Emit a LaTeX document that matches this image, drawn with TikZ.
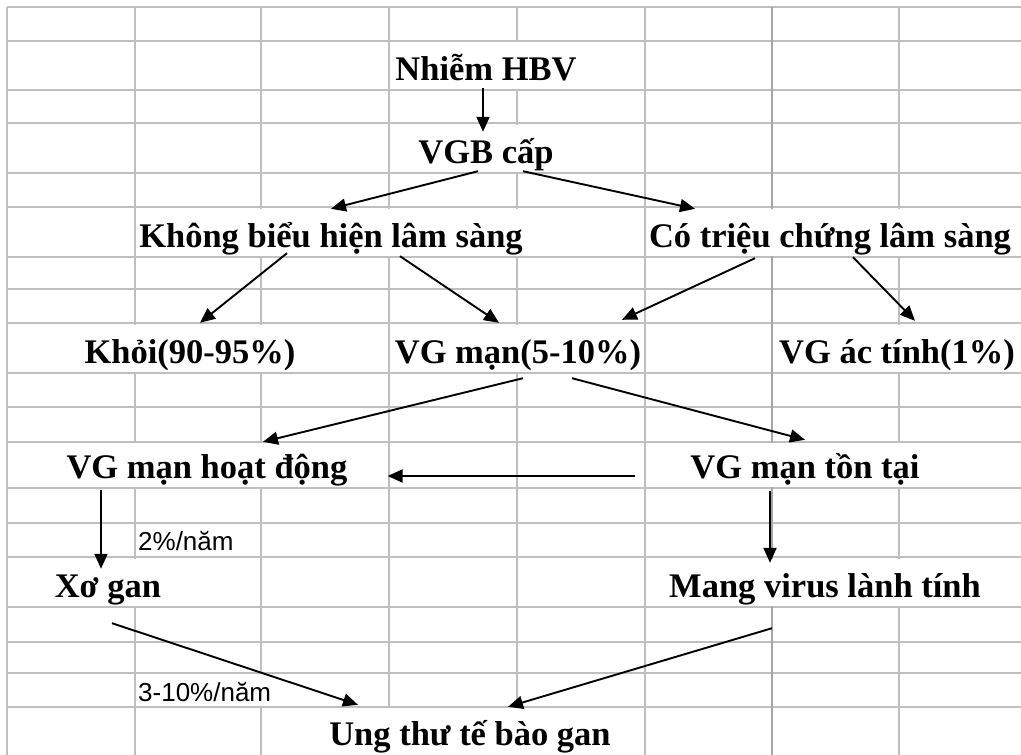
\documentclass[tikz,border=0pt]{standalone}
\usepackage{fontspec}
\setmainfont{Liberation Serif}
\newfontfamily\labfont{Liberation Sans}
\usetikzlibrary{arrows.meta}
\begin{document}
\begin{tikzpicture}[x=1pt,y=-1pt,
  gridline/.style={draw=gray!50, line width=1.3pt},
  breakline/.style={draw=gray!70, line width=2.2pt},
  txt/.style={fill=white, inner xsep=3pt, inner ysep=0pt, anchor=base,
    font=\fontsize{34.5}{40}\selectfont\bfseries},
  rowA/.style={text height=38pt, text depth=9pt},
  rowB/.style={text height=35pt, text depth=9pt},
  rowC/.style={text height=37pt, text depth=11pt},
  lab/.style={fill=white, inner xsep=2pt, inner ysep=0pt, anchor=base west,
    font=\labfont\fontsize{26}{30}\selectfont},
  arr/.style={draw=black, line width=1.9pt, -{Triangle[length=15pt,width=13pt]}}
]
\useasboundingbox (0,0) rectangle (1021,755);
\fill[white] (0,0) rectangle (1021,755);
% grid
\foreach \yy in {7,41,90,123,173,207,257,289,323,373,407,442,488,523,557,607,642,673,707}
  \draw[gridline] (7,\yy) -- (1021,\yy);
\foreach \xx in {7,135,261,389,517,645,899}
  \draw[gridline] (\xx,7) -- (\xx,755);
\draw[breakline] (772,7) -- (772,755);
% texts
\node[txt,rowA] (nhiem) at (486,80) {Nhiễm HBV};
\node[txt,rowA] (vgb) at (486,163) {VGB cấp};
\node[txt,rowA] (khong) at (331,247) {Không biểu hiện lâm sàng};
\node[txt,rowA] (co) at (830,247) {Có triệu chứng lâm sàng};
\node[txt,rowA] (khoi) at (190,363) {Khỏi(90-95\%)};
\node[txt,rowA,inner xsep=1pt] (vgman) at (518,363) {VG mạn(5-10\%)};
\node[txt,rowA] (vgac) at (897,363) {VG ác tính(1\%)};
\node[txt,rowB] (hoatdong) at (207,478) {VG mạn hoạt động};
\node[txt,rowB] (tontai) at (805,478) {VG mạn tồn tại};
\node[txt,rowA] (xogan) at (108,597) {Xơ gan};
\node[txt,rowA] (mang) at (825,597) {Mang virus lành tính};
\node[txt,rowC] (ungthu) at (470,745) {Ung thư tế bào gan};
\node[lab,text height=26pt,text depth=6pt] (lab2) at (136,550) {2\%/năm};
\node[lab,text height=27pt,text depth=5pt] (lab3) at (136,701) {3-10\%/năm};
% arrows
\draw[arr] ([xshift=-3pt,yshift=1pt]nhiem.south) -- ([xshift=-3pt,yshift=-7pt]vgb.north);
\draw[arr] ([xshift=-8pt,yshift=1pt]vgb.south) -- (khong.north);
\draw[arr] ([xshift=37pt,yshift=1pt]vgb.south) -- ([xshift=-135pt]co.north);
\draw[arr] ([xshift=-44pt,yshift=3pt]khong.south) -- ([xshift=10pt,yshift=2pt]khoi.north);
\draw[arr] ([xshift=69pt]khong.south) -- ([xshift=-19pt,yshift=2pt]vgman.north);
\draw[arr] ([xshift=-75pt,yshift=-2pt]co.south) -- ([xshift=104pt,yshift=5pt]vgman.north);
\draw[arr] ([xshift=23pt,yshift=-1pt]co.south) -- ([xshift=18pt,yshift=4pt]vgac.north);
\draw[arr] ([xshift=5pt,yshift=-6pt]vgman.south) -- ([xshift=56pt,yshift=1pt]hoatdong.north);
\draw[arr] ([xshift=54pt,yshift=-6pt]vgman.south) -- ([yshift=3pt]tontai.north);
\draw[arr] ([xshift=-52pt,yshift=2pt]tontai.base west) -- ([xshift=37pt,yshift=2pt]hoatdong.base east);
\draw[arr] ([xshift=-106pt,yshift=-3pt]hoatdong.south) -- ([xshift=-7pt,yshift=-10pt]xogan.north);
\draw[arr] ([xshift=-35pt,yshift=-4pt]tontai.south) -- ([xshift=-55pt,yshift=-4pt]mang.north);
\draw[arr] ([xshift=4pt,yshift=-17pt]xogan.south) -- ([xshift=-112pt,yshift=3pt]ungthu.north);
\draw[arr] ([xshift=-53pt,yshift=-22pt]mang.south) -- ([xshift=38pt,yshift=1pt]ungthu.north);
\end{tikzpicture}
\end{document}
